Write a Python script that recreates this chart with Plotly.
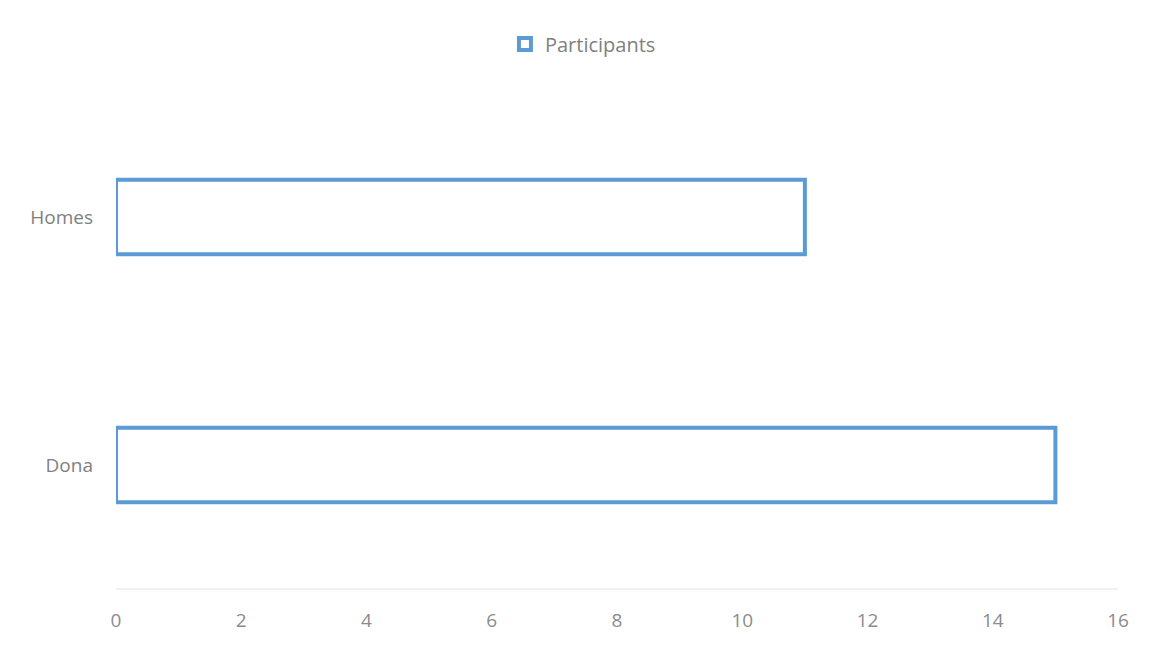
import plotly.graph_objects as go

categories = ["Dona", "Homes"]
participants = [15, 11]
x_ticks = [0, 2, 4, 6, 8, 10, 12, 14, 16]

fig = go.Figure()
fig.add_trace(go.Bar(
    y=categories,
    x=participants,
    orientation="h",
    name="Participants",
    width=0.3,
    marker=dict(color="white", line=dict(color="#5b9bd5", width=4)),
    showlegend=True,
))

fig.update_layout(
    width=1153,
    height=646,
    paper_bgcolor="white",
    plot_bgcolor="white",
    margin=dict(l=108, r=43, t=85, b=65),
    font=dict(family="Open Sans, Noto Sans, sans-serif", size=19, color="#7f7f7f"),
    showlegend=True,
    legend=dict(
        orientation="h",
        x=0.466,
        xanchor="center",
        y=1.099,
        yanchor="middle",
        font=dict(size=20, color="#7f7f7f"),
        itemwidth=30,
    ),
    xaxis=dict(
        range=[0, 16],
        tickvals=x_ticks,
        ticktext=[str(v) for v in x_ticks],
        showgrid=False,
        zeroline=False,
        showline=False,
        ticks="",
        ticklabelstandoff=18,
        tickfont=dict(size=19, color="#8c8c8c"),
        fixedrange=True,
    ),
    yaxis=dict(
        range=[-0.5, 1.5],
        showgrid=False,
        zeroline=False,
        showline=False,
        ticks="",
        ticklabelstandoff=22,
        tickfont=dict(size=19, color="#7f7f7f"),
        fixedrange=True,
    ),
)

# light axis baseline
fig.add_shape(type="line", xref="x", yref="paper", x0=0, x1=16, y0=0, y1=0,
              line=dict(color="#ececec", width=1.5))

fig.write_html("out.html")
